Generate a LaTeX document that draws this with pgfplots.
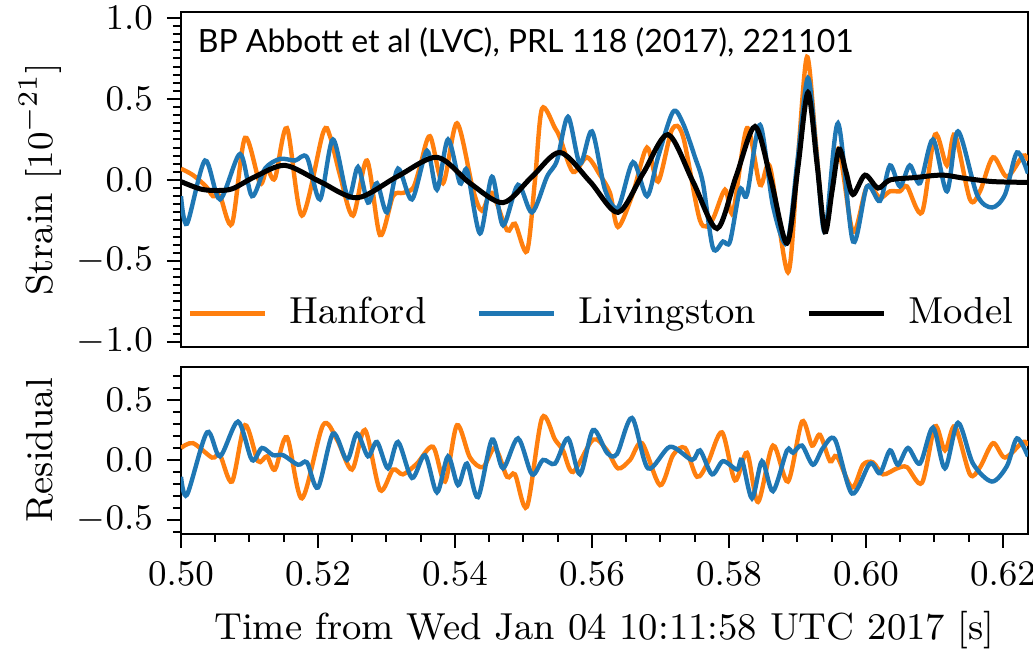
\documentclass[border=0pt]{standalone}
\usepackage{pgfplots}
\pgfplotsset{compat=1.18}
\usepackage{fontspec}
\newfontfamily\annfont{Lato}
\definecolor{hanford}{HTML}{FF7F0E}
\definecolor{livingston}{HTML}{1F77B4}
\pgfplotsset{
  gwbase/.style={
    scale only axis, width=211.75pt,
    xmin=0.5, xmax=0.62365,
    font=\fontsize{9.4}{11}\selectfont,
    axis line style={line width=0.5pt},
    tick style={black, line width=0.5pt},
    tick align=outside,
    major tick length=3.5pt, minor tick length=2pt,
    xtick pos=bottom, ytick pos=left,
    yticklabel style={/pgf/number format/.cd, fixed, fixed zerofill, precision=1},
    xticklabel style={/pgf/number format/.cd, fixed, fixed zerofill, precision=2},
    every axis y label/.style={at={(axis description cs:-0.1665,0.5)}, rotate=90, anchor=center},
  },
  hline/.style={hanford, line width=1.1pt, smooth, tension=0.5},
  lline/.style={livingston, line width=1.1pt, smooth, tension=0.5},
  mline/.style={black, line width=1.25pt, smooth, tension=0.5},
}
\begin{document}
\begin{tikzpicture}[x=1pt,y=1pt]
\path[use as bounding box] (0,0) rectangle (258.25,162.75);
\begin{axis}[gwbase, at={(45.25pt,76pt)}, anchor=south west, height=83.75pt,
  ymin=-1.031, ymax=1.037,
  xtick=\empty,
  ytick={-1,-0.5,0,0.5,1},
  minor ytick={-0.95,-0.9,-0.85,-0.8,-0.75,-0.7,-0.65,-0.6,-0.55,-0.45,-0.4,-0.35,-0.3,-0.25,-0.2,-0.15,-0.1,-0.05,0.05,0.1,0.15,0.2,0.25,0.3,0.35,0.4,0.45,0.55,0.6,0.65,0.7,0.75,0.8,0.85,0.9,0.95},
  ylabel={Strain $[10^{-21}]$},
  legend columns=3,
  legend style={at={(axis description cs:0.5,0.10)}, anchor=center, draw=none, fill=none,
    font=\fontsize{9.4}{11}\selectfont,
    /tikz/every odd column/.append style={column sep=3.5pt},
    /tikz/every even column/.append style={column sep=10.6pt}},
  legend image code/.code={\draw[#1, line width=1.1pt] (0pt,0pt) -- (18.75pt,0pt);},
]
\addplot[hline] coordinates {
(0.50000,0.07) (0.50175,0.03) (0.50365,-0.04) (0.50467,-0.10) (0.50570,-0.10) (0.50745,-0.27)
(0.50934,0.26) (0.51153,-0.02) (0.51255,0.07) (0.51372,0.01) (0.51547,0.32) (0.51766,-0.22)
(0.52073,0.29) (0.52175,0.27) (0.52321,0.03) (0.52511,-0.22) (0.52715,0.12) (0.52905,-0.34)
(0.53095,-0.10) (0.53241,-0.08) (0.53387,-0.05) (0.53489,0.08) (0.53635,0.27) (0.53825,-0.02)
(0.54029,0.35) (0.54263,-0.06) (0.54394,-0.19) (0.54540,-0.08) (0.54759,-0.31) (0.54876,-0.27)
(0.55051,-0.44) (0.55168,0.00) (0.55270,0.44) (0.55460,0.32) (0.55533,0.26) (0.55723,0.05)
(0.55927,0.14) (0.56117,0.03) (0.56263,-0.08) (0.56380,-0.29) (0.56599,-0.08) (0.56803,0.20)
(0.56964,-0.01) (0.57168,0.31) (0.57328,0.27) (0.57577,-0.25) (0.57752,-0.25) (0.57942,-0.06)
(0.58058,-0.20) (0.58263,0.32) (0.58453,-0.03) (0.58599,0.08) (0.58861,-0.57) (0.59000,0.10)
(0.59139,0.76) (0.59270,0.22) (0.59401,-0.31) (0.59591,0.19) (0.59810,-0.32) (0.60015,-0.04)
(0.60204,-0.11) (0.60350,-0.07) (0.60496,-0.07) (0.60599,-0.04) (0.60818,-0.20) (0.61007,0.28)
(0.61182,0.09) (0.61299,0.28) (0.61518,-0.12) (0.61664,-0.07) (0.61854,0.14) (0.62058,0.02)
(0.62292,0.15) (0.62365,0.12)
};
\addlegendentry{Hanford}
\addplot[lline] coordinates {
(0.50000,-0.10) (0.50088,-0.27) (0.50350,0.12) (0.50569,-0.12) (0.50861,0.16) (0.51036,-0.10)
(0.51226,0.07) (0.51445,0.13) (0.51664,0.12) (0.51839,0.14) (0.52029,-0.12) (0.52219,0.25)
(0.52438,-0.11) (0.52584,0.08) (0.52730,-0.14) (0.52861,-0.02) (0.53007,-0.20) (0.53168,0.07)
(0.53372,-0.12) (0.53591,0.18) (0.53737,-0.06) (0.53898,0.25) (0.54073,-0.02) (0.54175,0.06)
(0.54365,-0.33) (0.54540,0.02) (0.54701,-0.28) (0.54920,-0.03) (0.55124,-0.20) (0.55343,0.02)
(0.55489,0.12) (0.55650,0.39) (0.55825,0.10) (0.56000,0.30) (0.56190,-0.06) (0.56380,-0.17)
(0.56599,0.11) (0.56803,-0.10) (0.56964,0.14) (0.57182,0.42) (0.57328,0.35) (0.57504,0.14)
(0.57620,-0.02) (0.57766,-0.42) (0.57912,-0.38) (0.58015,-0.38) (0.58160,-0.06) (0.58263,-0.09)
(0.58453,0.34) (0.58642,-0.16) (0.58847,-0.39) (0.59000,0.12) (0.59153,0.63) (0.59280,0.15)
(0.59401,-0.32) (0.59591,0.35) (0.59810,-0.38) (0.60015,-0.04) (0.60204,-0.13) (0.60350,0.09)
(0.60496,-0.04) (0.60640,0.09) (0.60788,-0.02) (0.60978,0.25) (0.61182,-0.07) (0.61343,0.30)
(0.61620,-0.09) (0.61839,-0.17) (0.62029,-0.09) (0.62204,0.17) (0.62365,0.04)
};
\addlegendentry{Livingston}
\addplot[mline] coordinates {
(0.50000,-0.01) (0.50277,-0.055) (0.50496,-0.065) (0.50745,-0.055) (0.51080,0.02) (0.51518,0.09)
(0.52029,-0.01) (0.52569,-0.11) (0.53153,0.02) (0.53737,0.14) (0.54219,-0.02) (0.54701,-0.14)
(0.55124,0.02) (0.55533,0.17) (0.55971,-0.01) (0.56380,-0.20) (0.56745,0.04) (0.57110,0.28)
(0.57474,-0.01) (0.57825,-0.30) (0.58102,0.02) (0.58380,0.33) (0.58613,0.00) (0.58847,-0.39)
(0.59007,0.08) (0.59153,0.54) (0.59285,0.10) (0.59401,-0.32) (0.59504,-0.07) (0.59606,0.19)
(0.59708,0.05) (0.59810,-0.09) (0.59985,0.03) (0.60175,-0.05) (0.60350,0.00) (0.60715,0.015)
(0.61110,0.03) (0.61445,0.01) (0.61854,-0.01) (0.62365,-0.015)
};
\addlegendentry{Model}
\end{axis}
\begin{axis}[gwbase, at={(45.25pt,29.25pt)}, anchor=south west, height=41.75pt,
  ymin=-0.617, ymax=0.775,
  xtick={0.50,0.52,0.54,0.56,0.58,0.60,0.62},
  minor xtick={0.505,0.51,0.515,0.525,0.53,0.535,0.545,0.55,0.555,0.565,0.57,0.575,0.585,0.59,0.595,0.605,0.61,0.615},
  ytick={-0.5,0,0.5},
  minor ytick={-0.6,-0.4,-0.3,-0.2,-0.1,0.1,0.2,0.3,0.4,0.6,0.7},
  ylabel={Residual},
  xlabel={Time from Wed Jan 04 10:11:58 UTC 2017 [s]},
  xlabel style={at={(axis description cs:0.5,-0.575)}, anchor=center},
]
\addplot[hline] coordinates {
(0.50000,0.10) (0.50175,0.14) (0.50453,0.02) (0.50569,0.04) (0.50745,-0.18) (0.50934,0.29)
(0.51124,-0.01) (0.51255,0.03) (0.51372,-0.08) (0.51547,0.19) (0.51766,-0.32) (0.52073,0.29)
(0.52277,0.17) (0.52496,-0.08) (0.52686,0.25) (0.52905,-0.25) (0.53095,-0.08) (0.53241,-0.12)
(0.53445,-0.03) (0.53679,0.11) (0.53854,-0.18) (0.54029,0.29) (0.54219,0.02) (0.54409,-0.06)
(0.54584,0.10) (0.54759,-0.14) (0.54876,-0.12) (0.55051,-0.39) (0.55270,0.35) (0.55460,0.17)
(0.55577,0.08) (0.55723,-0.10) (0.56015,0.17) (0.56219,0.08) (0.56380,-0.07) (0.56555,0.00)
(0.56730,0.14) (0.56993,-0.21) (0.57182,0.04) (0.57358,0.10) (0.57533,-0.14) (0.57693,-0.02)
(0.57898,0.23) (0.58088,-0.17) (0.58263,0.06) (0.58423,-0.35) (0.58642,0.12) (0.58861,-0.18)
(0.59066,0.32) (0.59212,0.12) (0.59328,0.21) (0.59474,-0.01) (0.59577,0.03) (0.59796,-0.23)
(0.59956,-0.04) (0.60102,-0.02) (0.60248,-0.12) (0.60453,-0.07) (0.60599,-0.06) (0.60818,-0.19)
(0.61007,0.28) (0.61153,0.08) (0.61299,0.28) (0.61518,-0.12) (0.61664,-0.06) (0.61854,0.14)
(0.62029,0.02) (0.62292,0.15) (0.62365,0.12)
};
\addplot[lline] coordinates {
(0.50000,-0.14) (0.50088,-0.29) (0.50380,0.23) (0.50569,0.03) (0.50832,0.32) (0.51036,0.00)
(0.51182,0.10) (0.51343,0.04) (0.51489,0.04) (0.51708,-0.04) (0.51839,-0.02) (0.52000,-0.23)
(0.52219,0.22) (0.52423,0.00) (0.52569,0.22) (0.52730,0.03) (0.52861,0.15) (0.53022,-0.07)
(0.53168,0.15) (0.53372,-0.15) (0.53562,0.04) (0.53737,-0.27) (0.53898,0.03) (0.54044,-0.21)
(0.54175,-0.03) (0.54336,-0.31) (0.54540,0.17) (0.54701,-0.07) (0.54920,0.18) (0.55124,-0.12)
(0.55285,0.00) (0.55460,-0.03) (0.55650,0.18) (0.55825,-0.12) (0.56015,0.25) (0.56219,0.06)
(0.56365,0.05) (0.56584,0.35) (0.56818,-0.07) (0.57139,0.11) (0.57460,0.00) (0.57577,0.08)
(0.57752,-0.12) (0.57912,-0.01) (0.58117,-0.08) (0.58190,0.00) (0.58336,-0.32) (0.58482,-0.01)
(0.58642,-0.26) (0.58847,0.08) (0.58934,0.06) (0.59066,0.12) (0.59226,-0.04) (0.59372,0.10)
(0.59547,0.17) (0.59796,-0.28) (0.60058,-0.03) (0.60204,-0.11) (0.60350,0.08) (0.60467,-0.04)
(0.60613,0.10) (0.60788,-0.03) (0.60978,0.27) (0.61153,-0.07) (0.61343,0.31) (0.61562,-0.03)
(0.61839,-0.18) (0.62058,-0.05) (0.62204,0.18) (0.62365,0.03)
};
\end{axis}
\node[anchor=west, inner sep=0pt, font={\fontsize{8.0}{10}\annfont}] at (49.25,152.25) {BP Abbott et al (LVC), PRL 118 (2017), 221101};
\end{tikzpicture}
\end{document}
